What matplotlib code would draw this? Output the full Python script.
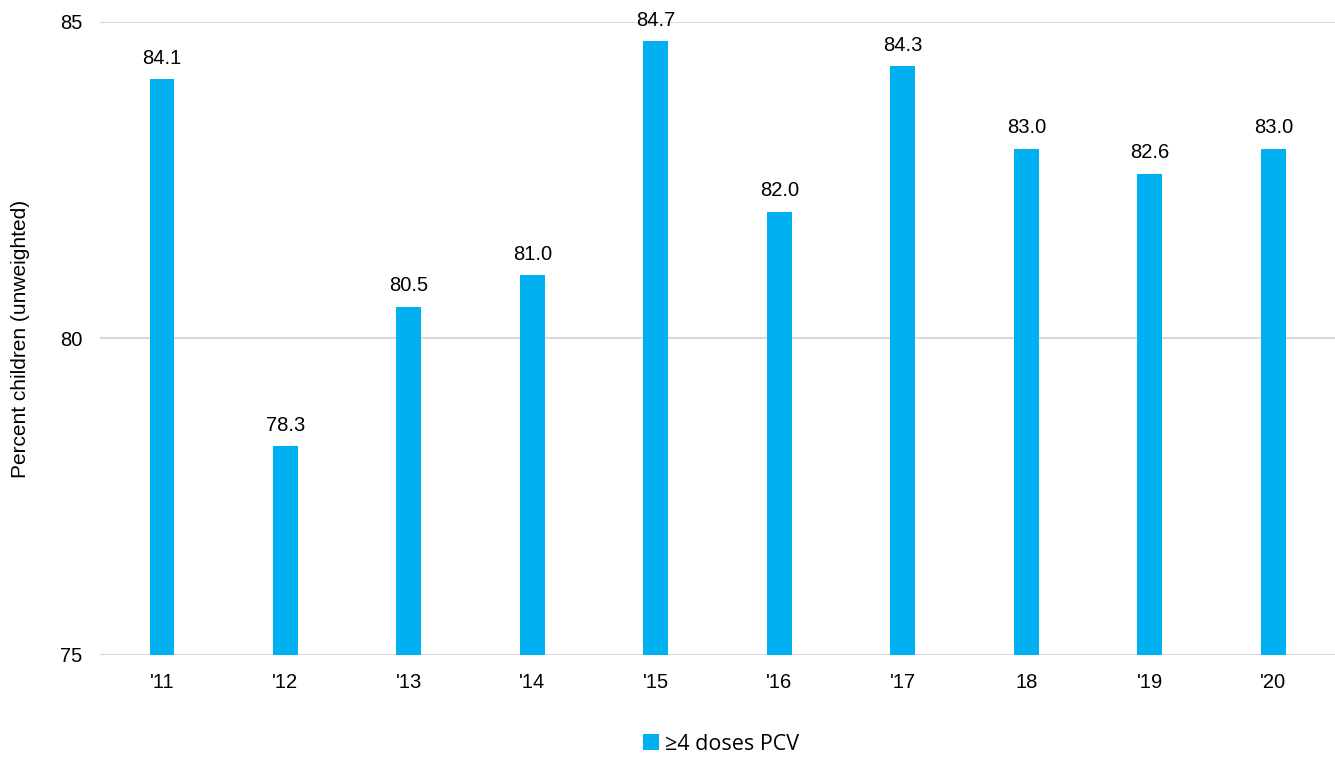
import matplotlib.pyplot as plt

years = ["'11", "'12", "'13", "'14", "'15", "'16", "'17", "18", "'19", "'20"]
pcv4 = [84.1, 78.3, 80.5, 81.0, 84.7, 82.0, 84.3, 83.0, 82.6, 83.0]

plt.rcParams['font.family'] = ['Liberation Sans', 'DejaVu Sans']

fig = plt.figure(figsize=(13.35, 7.58), dpi=100)
ax = fig.add_axes([0.075, 0.136, 0.925, 0.835])

x = range(len(years))
bars = ax.bar(x, [v - 75 for v in pcv4], bottom=75, width=0.2, color='#00B0F0',
              label='≥4 doses PCV', zorder=3)
for xi, v in zip(x, pcv4):
    ax.text(xi, v + 0.18, f'{v:.1f}', ha='center', va='bottom', fontsize=14.5)

ax.set_ylim(75, 85)
ax.set_xlim(-0.5, len(years) - 0.5)
ax.set_yticks([75, 80, 85])
ax.set_xticks(list(x))
ax.set_xticklabels(years)
ax.tick_params(axis='both', length=0, labelsize=14.5)
ax.tick_params(axis='x', pad=13)
ax.tick_params(axis='y', pad=13)
ax.grid(axis='y', color='#D9D9D9', linewidth=1.5, zorder=0)
for s in ax.spines.values():
    s.set_visible(False)
ax.set_ylabel('Percent children (unweighted)', fontsize=15, labelpad=21.5)

leg = fig.legend(handles=[bars], loc='center', bbox_to_anchor=(0.54, 0.018), frameon=False,
                 prop={'family': 'Open Sans', 'size': 15.5}, handlelength=0.75, handleheight=0.75,
                 handletextpad=0.3)

fig.savefig('out.png', dpi=100)
